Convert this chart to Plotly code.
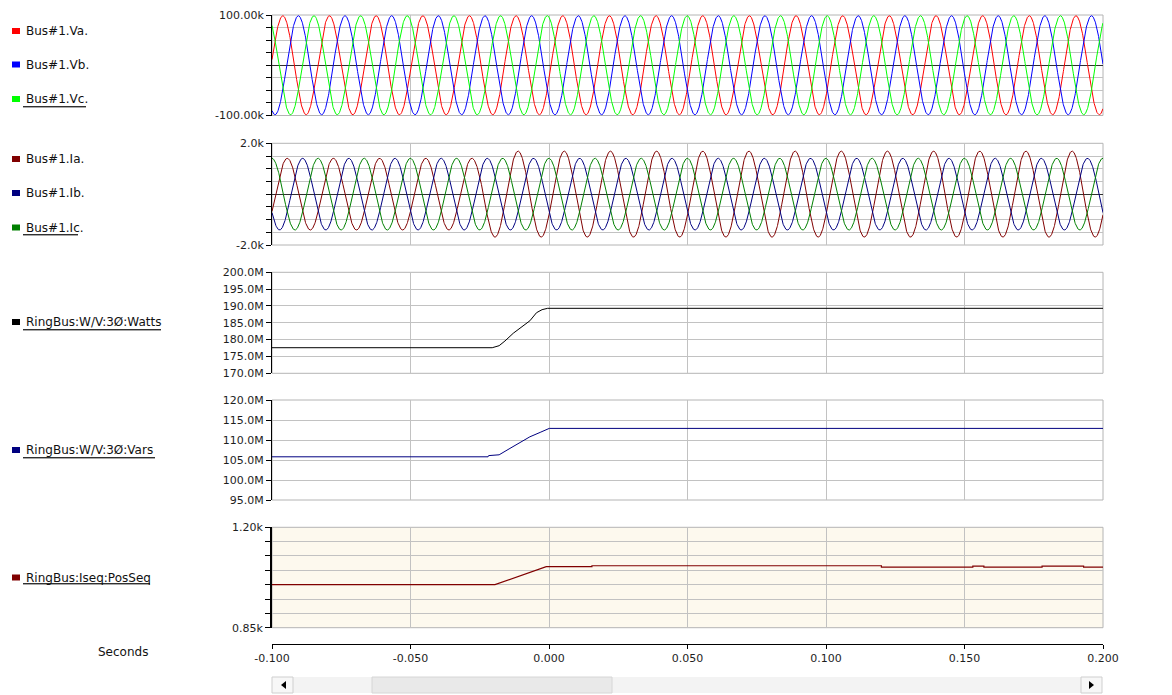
import numpy as np
import plotly.graph_objects as go

W, H = 1172, 695

# ---------------- data ----------------
t_start, t_end = -0.100, 0.200
x_ticks = [-0.100, -0.050, 0.000, 0.050, 0.100, 0.150, 0.200]
x_tick_labels = ["-0.100", "-0.050", "0.000", "0.050", "0.100", "0.150", "0.200"]

sample_step = 0.0001

# voltages: frequency (Hz, crest spacing), crest value (V) and time of a crest (s), per phase
v_freq_hz = 59.37
v_names = ["Bus#1.Va.", "Bus#1.Vb.", "Bus#1.Vc."]
v_colors = ["#ff0000", "#0000ff", "#00ff00"]
v_crest = [98500, 98500, 98500]
v_crest_time = [-0.0961, -0.09049, -0.08487]

# currents: frequency, crest value before / after the load change (A), time of a crest (s)
i_freq_hz = 60.0
i_names = ["Bus#1.Ia.", "Bus#1.Ib.", "Bus#1.Ic."]
i_colors = ["#800000", "#000080", "#008000"]
i_crest_before = [1410, 1410, 1410]
i_crest_after = [1690, 1410, 1410]
i_crest_time = [-0.0945, -0.08894, -0.08339]
i_step_time = -0.0237

# real power (MW)
watts_name = "RingBus:W/V:3Ø:Watts"
watts_t = [-0.100, -0.0205, -0.0180, -0.0159, -0.0129, -0.0069, -0.0045, -0.0025, -0.0005, 0.200]
watts_mw = [177.6, 177.6, 178.2, 179.6, 181.9, 185.6, 188.0, 188.9, 189.3, 189.3]

# reactive power (MVar)
vars_name = "RingBus:W/V:3Ø:Vars"
vars_t = [-0.100, -0.0220, -0.0218, -0.0180, -0.0141, -0.0105, -0.0069, -0.0032, 0.0001, 0.200]
vars_mvar = [105.8, 105.8, 106.1, 106.3, 107.9, 109.3, 110.8, 111.9, 112.9, 112.9]

# positive sequence current (A)
posseq_name = "RingBus:Iseq:PosSeq"
posseq_t = [-0.100, -0.0195, -0.0010, 0.0155, 0.0155, 0.1200, 0.1200, 0.1530, 0.1530,
            0.1570, 0.1570, 0.1780, 0.1780, 0.1930, 0.1930, 0.200]
posseq_a = [1000, 1000, 1063, 1063, 1066, 1066, 1061, 1061, 1065,
            1065, 1061, 1061, 1065, 1065, 1061, 1061]

# y-axis ticks per panel
y1_ticks = [-100000, -75000, -50000, -25000, 0, 25000, 50000, 75000, 100000]
y1_labels = ["-100.00k", "", "", "", "", "", "", "", "100.00k"]
y2_ticks = [-2000, -1500, -1000, -500, 0, 500, 1000, 1500, 2000]
y2_labels = ["-2.0k", "", "", "", "", "", "", "", "2.0k"]
y3_ticks = [170e6, 175e6, 180e6, 185e6, 190e6, 195e6, 200e6]
y3_labels = ["170.0M", "175.0M", "180.0M", "185.0M", "190.0M", "195.0M", "200.0M"]
y4_ticks = [95e6, 100e6, 105e6, 110e6, 115e6, 120e6]
y4_labels = ["95.0M", "100.0M", "105.0M", "110.0M", "115.0M", "120.0M"]
y5_ticks = [850, 900, 950, 1000, 1050, 1100, 1150, 1200]
y5_labels = ["0.85k", "", "", "", "", "", "", "1.20k"]

# ---------------- build ----------------
t = np.arange(t_start, t_end + sample_step / 2, sample_step)

fig = go.Figure()
wv = 2 * np.pi * v_freq_hz
for n, c, a, tc in zip(v_names, v_colors, v_crest, v_crest_time):
    fig.add_trace(go.Scatter(x=t, y=a * np.cos(wv * (t - tc)), mode="lines", name=n,
                             line=dict(color=c, width=1), xaxis="x", yaxis="y"))
wi = 2 * np.pi * i_freq_hz
for n, c, a0, a1, tc in zip(i_names, i_colors, i_crest_before, i_crest_after, i_crest_time):
    amp = np.where(t < i_step_time, a0, a1)
    fig.add_trace(go.Scatter(x=t, y=amp * np.cos(wi * (t - tc)), mode="lines", name=n,
                             line=dict(color=c, width=1), xaxis="x2", yaxis="y2"))
fig.add_trace(go.Scatter(x=watts_t, y=[v * 1e6 for v in watts_mw], mode="lines", name=watts_name,
                         line=dict(color="#000000", width=1), xaxis="x3", yaxis="y3"))
fig.add_trace(go.Scatter(x=vars_t, y=[v * 1e6 for v in vars_mvar], mode="lines", name=vars_name,
                         line=dict(color="#000080", width=1), xaxis="x4", yaxis="y4"))
fig.add_trace(go.Scatter(x=posseq_t, y=posseq_a, mode="lines", name=posseq_name,
                         line=dict(color="#800000", width=1.2), xaxis="x5", yaxis="y5"))

# the page puts the figure 8 px in from the window's top-left corner
OX, OY = 8, 8


def px(x):
    return (x - OX) / W


def py(y):
    return 1 - (y - OY) / H


xd = [px(272), px(1103)]
panels = [(15, 115.5), (143.3, 245), (272.3, 373.3), (400, 500), (527.3, 627.7)]
ys = [(y1_ticks, y1_labels, [-100000, 100000]),
      (y2_ticks, y2_labels, [-2000, 2000]),
      (y3_ticks, y3_labels, [170e6, 200e6]),
      (y4_ticks, y4_labels, [95e6, 120e6]),
      (y5_ticks, y5_labels, [850, 1200])]

GRID = "#c2c2c2"
tickfont = dict(family="DejaVu Sans", size=11, color="#1e1e1e")
layout = dict(width=W, height=H, margin=dict(l=0, r=0, t=0, b=0, pad=0), autosize=False,
              paper_bgcolor="white", plot_bgcolor="rgba(0,0,0,0)", showlegend=False)

for k, ((top, bot), (tv, tt, rng)) in enumerate(zip(panels, ys), start=1):
    sfx = "" if k == 1 else str(k)
    xa = dict(domain=xd, range=[t_start, t_end], anchor="y" + sfx, automargin=False,
              tickvals=x_ticks, showticklabels=False, ticks="",
              showgrid=True, gridcolor=GRID, gridwidth=1,
              zeroline=False, showline=False)
    if k == 5:
        xa.update(anchor="free", position=py(644), showticklabels=True,
                  ticktext=x_tick_labels, ticks="outside", ticklen=4, tickcolor="#000000",
                  tickfont=tickfont, showline=True, linecolor="#000000", linewidth=1)
    layout["xaxis" + sfx] = xa
    layout["yaxis" + sfx] = dict(domain=[py(bot), py(top)], range=rng, anchor="x" + sfx,
                                 automargin=False,
                                 tickvals=tv, ticktext=tt, ticks="outside", ticklen=5,
                                 tickcolor="#000000", tickfont=tickfont,
                                 showgrid=True, gridcolor=GRID, gridwidth=1,
                                 zeroline=(k <= 2), zerolinecolor="#303030", zerolinewidth=1,
                                 showline=True, linecolor="#000000",
                                 linewidth=2 if k == 5 else 1)

shapes = []
annotations = []

# cream background of the bottom panel
shapes.append(dict(type="rect", xref="paper", yref="paper", layer="below",
                   x0=px(272), x1=px(1103), y0=py(627.7), y1=py(527.3),
                   fillcolor="#fdf9ee", line=dict(width=0)))
# panel frames in grey
for top, bot in panels:
    shapes.append(dict(type="rect", xref="paper", yref="paper", layer="below",
                       x0=px(272), x1=px(1103), y0=py(bot), y1=py(top),
                       line=dict(color="#b4b4b4", width=1)))

# legend column: label, colour, text centre y, underline end x, underline y
legend_items = [
    (v_names[0], v_colors[0], 31, None, None), (v_names[1], v_colors[1], 64.5, None, None),
    (v_names[2], v_colors[2], 99, 86, 106.5),
    (i_names[0], i_colors[0], 159, None, None), (i_names[1], i_colors[1], 193, None, None),
    (i_names[2], i_colors[2], 227.5, 78, 234.5),
    (watts_name, "#000000", 322, 161, 329.5),
    (vars_name, "#000080", 450, 155, 457.5),
    (posseq_name, "#800000", 577.5, 150, 583.5),
]
for label, col, yc, uend, uy in legend_items:
    shapes.append(dict(type="rect", xref="paper", yref="paper",
                       x0=px(12), x1=px(20), y0=py(yc + 3), y1=py(yc - 3),
                       fillcolor=col, line=dict(width=0)))
    annotations.append(dict(text=label, xref="paper", yref="paper", x=px(24), y=py(yc),
                            xanchor="left", yanchor="middle", showarrow=False,
                            font=dict(family="DejaVu Sans", size=12, color="#111111")))
    if uend is not None:
        shapes.append(dict(type="line", xref="paper", yref="paper",
                           x0=px(23), x1=px(uend), y0=py(uy), y1=py(uy),
                           line=dict(color="#303030", width=1)))
        shapes.append(dict(type="line", xref="paper", yref="paper",
                           x0=px(23), x1=px(uend), y0=py(uy + 1), y1=py(uy + 1),
                           line=dict(color="#a8a8a8", width=1)))

annotations.append(dict(text="Seconds", xref="paper", yref="paper", x=px(123), y=py(652),
                        xanchor="center", yanchor="middle", showarrow=False,
                        font=dict(family="DejaVu Sans", size=12, color="#111111")))

# scrollbar under the time axis
shapes.append(dict(type="rect", xref="paper", yref="paper", x0=px(272), x1=px(1102),
                   y0=py(693), y1=py(677), fillcolor="#f3f3f3", line=dict(width=0)))
shapes.append(dict(type="rect", xref="paper", yref="paper", x0=px(372), x1=px(612),
                   y0=py(693), y1=py(677), fillcolor="#e9e9e9",
                   line=dict(color="#d6d6d6", width=1)))
for x0, x1 in [(272, 293), (1081, 1102)]:
    shapes.append(dict(type="rect", xref="paper", yref="paper", x0=px(x0), x1=px(x1),
                       y0=py(693), y1=py(677), fillcolor="#f7f7f7",
                       line=dict(color="#cfcfcf", width=1)))
shapes.append(dict(type="path", xref="paper", yref="paper",
                   path=f"M {px(281)} {py(685)} L {px(286)} {py(681)} L {px(286)} {py(689)} Z",
                   fillcolor="#000000", line=dict(width=0)))
shapes.append(dict(type="path", xref="paper", yref="paper",
                   path=f"M {px(1094)} {py(685)} L {px(1089)} {py(681)} L {px(1089)} {py(689)} Z",
                   fillcolor="#000000", line=dict(width=0)))

layout["shapes"] = shapes
layout["annotations"] = annotations
fig.update_layout(**layout)
fig.write_html("out.html")
